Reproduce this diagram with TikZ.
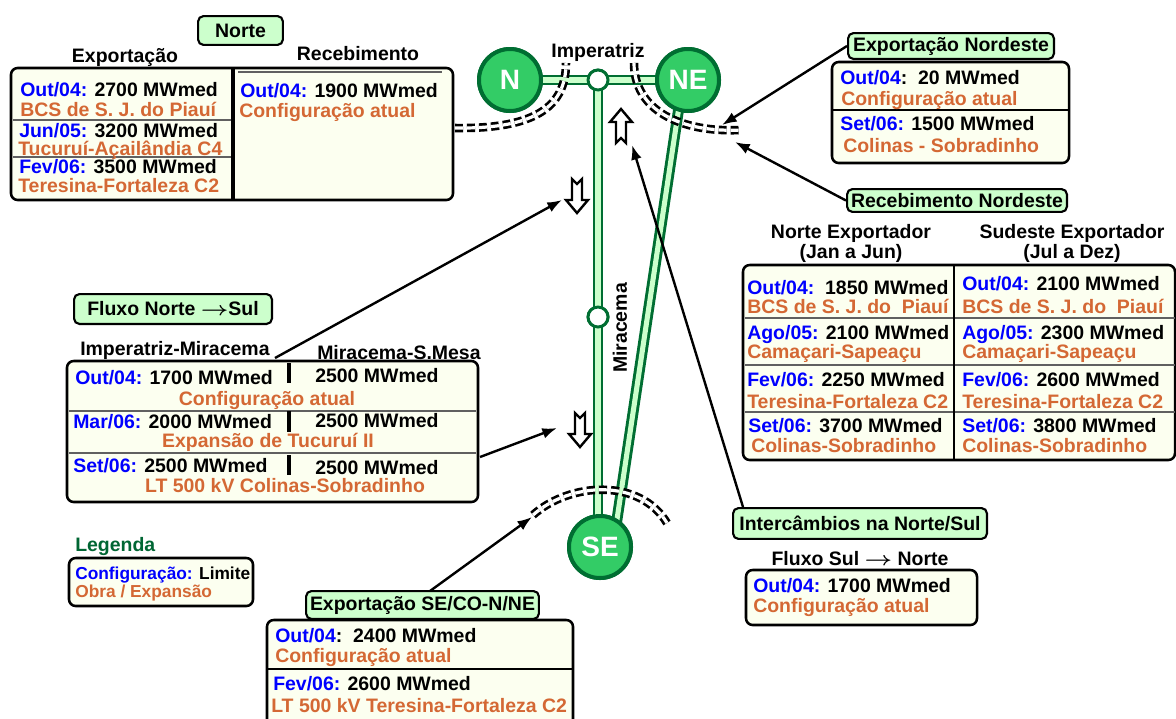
\documentclass[tikz,border=0pt]{standalone}
\usepackage{fontspec}
\setmainfont{Liberation Sans}
\usetikzlibrary{arrows.meta}
\definecolor{lgreen}{RGB}{204,255,204}
\definecolor{dgreen}{RGB}{0,110,50}
\definecolor{cgreen}{RGB}{51,204,102}
\definecolor{boxfill}{RGB}{252,255,240}
\definecolor{tblue}{RGB}{0,0,255}
\definecolor{torange}{RGB}{212,104,52}
\definecolor{legreen}{RGB}{0,102,51}
\newcommand{\bl}[1]{\textcolor{tblue}{#1}}
\newcommand{\og}[1]{\textcolor{torange}{#1}}
\newcommand{\myarrow}{\scalebox{1.25}[1.0]{\boldmath$\rightarrow$}}
\begin{document}
\begin{tikzpicture}[x=0.75pt,y=-0.75pt,
  txt/.style={inner sep=0pt, font=\bfseries\fontsize{14.6}{17}\selectfont, anchor=base west},
  ctxt/.style={txt, anchor=base},
  smalltxt/.style={inner sep=0pt, font=\bfseries\fontsize{13}{15}\selectfont, anchor=base west},
  lbl/.style={draw, line width=1.6pt, fill=lgreen, rounded corners=4pt, inner sep=0pt, font=\bfseries\fontsize{14.6}{17}\selectfont},
  dbox/.style={draw, line width=1.9pt, fill=boxfill, rounded corners=5pt},
  bigc/.style={circle, draw=dgreen, line width=3pt, fill=cgreen, text=white, font=\bfseries\fontsize{21}{24}\selectfont, minimum size=46.5pt, inner sep=0pt},
  smallc/.style={circle, draw=dgreen, line width=2.2pt, fill=white, minimum size=15pt, inner sep=0pt},
  gline/.style={draw=dgreen, line width=2.2pt, double=lgreen, double distance=3.8pt},
  darc/.style={draw=black, line width=2pt, double=white, double distance=2.4pt, dash pattern=on 6pt off 3pt},
  ptr/.style={draw, line width=1.8pt, -{Latex[length=11pt,width=8pt]}},
  sepline/.style={draw=gray!75!black, line width=1.1pt},
  vsep/.style={draw, line width=2pt},
  blockarr/.pic={\draw[line width=1.8pt, fill=white, line join=miter] (-5,-17) -- (0,-12) -- (5,-17) -- (5,4) -- (11,4) -- (0,17) -- (-11,4) -- (-5,4) -- cycle;}
]
\useasboundingbox (0,0) rectangle (1176,718);
\clip (0,0) rectangle (1176,718);

% ---------- central network ----------
\node[smallc] (imp) at (598,80) {};
\node[smallc] (mir) at (598,317) {};
\coordinate (neA) at (683,80);
\coordinate (seA) at (613,546);
\node[bigc] (N) at (510,80) {};
\node[bigc] (NE) at (688,80) {};
\node[bigc] (SE) at (600,547) {};
\draw[gline] (N.center) -- (NE.center);
\draw[gline] (imp.center) -- (imp.center |- SE.center);
\draw[gline] (neA) -- (seA);
\node[smallc] at (imp) {};
\node[smallc] at (mir) {};
\node[bigc] at (N) {N};
\node[bigc] at (NE) {NE};
\node[bigc] at (SE) {SE};

\node[ctxt] (implbl) at (598,57) {Imperatriz};
\node[txt, anchor=center, rotate=90] (mirlbl) at (620,328) {Miracema};

% dashed cut marks
\draw[darc] (455,128) .. controls (530,129) and (566,110) .. (566,63);
\draw[darc] (634,63) .. controls (634,110) and (680,133) .. (742,130);
\draw[darc] (533,515) .. controls (570,482) and (640,478) .. (667,523);

% block arrows
\pic at (577,196) {blockarr};
\pic at (580,430) {blockarr};
\pic[rotate=180] at (621,126) {blockarr};

% ---------- Norte ----------
\node[lbl, minimum width=63.6pt, minimum height=21.6pt] (norte) at (240.5,30.5) {Norte};
\node[ctxt] (hexp) at (125,62) {Exportação};
\node[ctxt] (hrec) at (358,60) {Recebimento};
\draw[dbox] (11,68) rectangle (453,200);
\draw[sepline] (238,72) -- (442,72);
\draw[sepline] (13,120) -- (233,120);
\draw[sepline] (13,157) -- (233,157);
\draw[line width=2.4pt] (233,68) -- (233,200);
\node[txt] (t1) at (20,96) {\bl{Out/04:} 2700 MWmed};
\node[txt] (t2) at (20,116) {\og{BCS de S. J. do Piauí}};
\node[txt] (t3) at (19,137) {\bl{Jun/05:} 3200 MWmed};
\node[txt] (t4) at (18,155) {\og{Tucuruí-Açailândia C4}};
\node[txt] (t5) at (19,173) {\bl{Fev/06:} 3500 MWmed};
\node[txt] (t6) at (18,192) {\og{Teresina-Fortaleza C2}};
\node[txt] (t7) at (240,97) {\bl{Out/04:} 1900 MWmed};
\node[txt] (t8) at (239,117) {\og{Configuração atual}};

% ---------- Exportacao Nordeste ----------
\node[lbl, minimum width=154.4pt, minimum height=19.4pt] (expNE) at (951,46) {Exportação Nordeste};
\draw[dbox] (832,62) rectangle (1069,163);
\draw[line width=0.8pt] (832,110) -- (1069,110);
\node[txt] (e1) at (840,84) {\bl{Out/04}:\ \ 20 MWmed};
\node[txt] (e2) at (841,105) {\og{Configuração atual}};
\node[txt] (e3) at (840,130) {\bl{Set/06:} 1500 MWmed};
\node[txt] (e4) at (843,152) {\og{Colinas - Sobradinho}};

\node[lbl, minimum width=164.9pt, minimum height=17.1pt] (recNE) at (957,200.5) {Recebimento Nordeste};

% ---------- right table ----------
\node[ctxt] (hn1) at (851,238) {Norte Exportador};
\node[ctxt] (hn2) at (851,258) {(Jan a Jun)};
\node[ctxt] (hs1) at (1072,238) {Sudeste Exportador};
\node[ctxt] (hs2) at (1072,258) {(Jul a Dez)};
\draw[dbox] (743,265) rectangle (1175,460);
\draw[sepline] (745,318) -- (1175,318);
\draw[sepline] (745,365) -- (1175,365);
\draw[sepline] (745,412) -- (1175,412);
\draw[vsep] (954,265) -- (954,460);
\node[txt] (r1) at (747,294) {\bl{Out/04:}\ \ 1850 MWmed};
\node[txt] (r2) at (747,313) {\og{BCS de S. J. do\ \ Piauí}};
\node[txt] (r3) at (747,339) {\bl{Ago/05:} 2100 MWmed};
\node[txt] (r4) at (747,358) {\og{Camaçari-Sapeaçu}};
\node[txt] (r5) at (747,386) {\bl{Fev/06:} 2250 MWmed};
\node[txt] (r6) at (747,408) {\og{Teresina-Fortaleza C2}};
\node[txt] (r7) at (748,432) {\bl{Set/06:} 3700 MWmed};
\node[txt] (r8) at (751,452) {\og{Colinas-Sobradinho}};
\node[txt] (s1) at (962,290) {\bl{Out/04:} 2100 MWmed};
\node[txt] (s2) at (962,313) {\og{BCS de S. J. do\ \ Piauí}};
\node[txt] (s3) at (962,339) {\bl{Ago/05:} 2300 MWmed};
\node[txt] (s4) at (962,358) {\og{Camaçari-Sapeaçu}};
\node[txt] (s5) at (962,386) {\bl{Fev/06:} 2600 MWmed};
\node[txt] (s6) at (962,408) {\og{Teresina-Fortaleza C2}};
\node[txt] (s7) at (962,432) {\bl{Set/06:} 3800 MWmed};
\node[txt] (s8) at (962,452) {\og{Colinas-Sobradinho}};

% ---------- Fluxo Norte-Sul ----------
\node[lbl, minimum width=148.4pt, minimum height=22.4pt] (fluxo) at (173,309) {Fluxo Norte \myarrow Sul};
\node[txt] (hIM) at (80,355) {Imperatriz-Miracema};
\node[txt] (hMS) at (317,359) {Miracema-S.Mesa};
\draw[dbox] (67,361) rectangle (478,502);
\draw[sepline] (69,411) -- (476,411);
\draw[sepline] (69,453) -- (476,453);
\draw[line width=2.3pt] (289,363) -- (289,383);
\draw[line width=2.3pt] (289,411) -- (289,432);
\draw[line width=2.3pt] (289,455) -- (289,475);
\node[txt] (m1) at (75,384) {\bl{Out/04:} 1700 MWmed};
\node[txt] (m2) at (315,382) {2500 MWmed};
\node[ctxt] (m3) at (267,405) {\og{Configuração atual}};
\node[txt] (m4) at (73,428) {\bl{Mar/06:} 2000 MWmed};
\node[txt] (m5) at (315,427) {2500 MWmed};
\node[ctxt] (m6) at (268,447) {\og{Expansão de Tucuruí II}};
\node[txt] (m7) at (73,472) {\bl{Set/06:} 2500 MWmed};
\node[txt] (m8) at (315,474) {2500 MWmed};
\node[ctxt] (m9) at (285,492) {\og{LT 500 kV Colinas-Sobradinho}};

% ---------- legend ----------
\node[txt, text=legreen] (leg) at (75,551) {Legenda};
\draw[dbox] (69,558) rectangle (253,606);
\node[smalltxt] (l1) at (75,579) {\bl{Configuração:} Limite};
\node[smalltxt] (l2) at (75,597) {\og{Obra / Expansão}};

% ---------- Exportacao SE ----------
\node[lbl, minimum width=174.6pt, minimum height=20.9pt] (expSE) at (422.5,605) {Exportação SE/CO-N/NE};
\draw[dbox] (267,620) rectangle (573,728);
\draw[line width=0.9pt] (267,669) -- (573,669);
\node[txt] (x1) at (275,642) {\bl{Out/04}:\ \ 2400 MWmed};
\node[txt] (x2) at (275,662) {\og{Configuração atual}};
\node[txt] (x3) at (273,690) {\bl{Fev/06:} 2600 MWmed};
\node[txt] (x4) at (271,712) {\og{LT 500 kV Teresina-Fortaleza C2}};

% ---------- Intercambios ----------
\node[lbl, minimum width=190.4pt, minimum height=23.1pt] (interc) at (860,523.5) {Intercâmbios na Norte/Sul};
\node[ctxt] (fsn) at (860,565) {Fluxo Sul \myarrow\ Norte};
\draw[dbox] (746,570) rectangle (977,625);
\node[txt] (i1) at (753,592) {\bl{Out/04:} 1700 MWmed};
\node[txt] (i2) at (753,612) {\og{Configuração atual}};

% ---------- pointer arrows ----------
\coordinate (tipA) at (722,125);
\coordinate (tipB) at (735,142);
\coordinate (srcC) at (275,358);
\coordinate (tipC) at (562,200);
\coordinate (srcD) at (480,457);
\coordinate (tipD) at (557,428);
\coordinate (srcE) at (430,591);
\coordinate (tipE) at (532,517);
\coordinate (srcF) at (743,507);
\coordinate (tipF) at (632,145);
\draw[ptr] (expNE.west) -- (tipA);
\draw[ptr] (recNE.west) -- (tipB);
\draw[ptr] (srcC) -- (tipC);
\draw[ptr] (srcD) -- (tipD);
\draw[ptr] (srcE) -- (tipE);
\draw[ptr] (srcF) -- (tipF);
\end{tikzpicture}
\end{document}
